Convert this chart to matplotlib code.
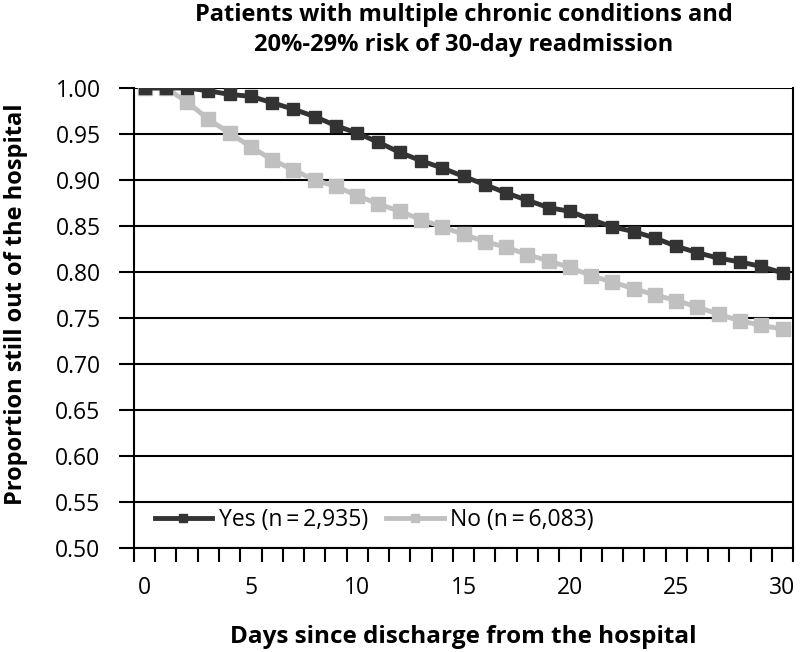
import numpy as np
import matplotlib.pyplot as plt
from matplotlib.ticker import MultipleLocator, FixedLocator

plt.rcParams['font.family'] = ['Open Sans', 'DejaVu Sans']

# days since discharge
days = list(range(31))

# proportion still out of the hospital
yes_vals = [1.000, 1.000, 1.000, 0.997, 0.993, 0.991, 0.984, 0.977, 0.969, 0.959,
            0.951, 0.941, 0.930, 0.921, 0.913, 0.904, 0.895, 0.886, 0.878, 0.870,
            0.866, 0.857, 0.849, 0.844, 0.837, 0.828, 0.821, 0.815, 0.811, 0.806,
            0.799]
no_vals = [1.000, 1.000, 0.985, 0.966, 0.951, 0.936, 0.922, 0.911, 0.900, 0.893,
           0.883, 0.874, 0.866, 0.857, 0.849, 0.841, 0.833, 0.827, 0.819, 0.812,
           0.805, 0.796, 0.789, 0.782, 0.775, 0.769, 0.762, 0.754, 0.747, 0.742,
           0.738]

yes_label = 'Yes (n\u2009=\u20092,935)'
no_label = 'No (n\u2009=\u20096,083)'

fig = plt.figure(figsize=(8.02, 6.52), dpi=100)
ax = fig.add_axes([0.167, 0.1595, 0.822, 0.7055])

ax.plot(days, no_vals, color='#c0c0c0', lw=3.5, marker='s', ms=10, label=no_label, zorder=3)
ax.plot(days, yes_vals, color='#333333', lw=3.5, marker='s', ms=9, label=yes_label, zorder=4)

ax.set_xlim(-0.5, 30.5)
ax.set_ylim(0.5, 1.0)

# y axis
ax.yaxis.set_major_locator(MultipleLocator(0.05))
ax.yaxis.set_major_formatter(plt.FuncFormatter(lambda v, p: f'{v:.2f}'))
ax.grid(axis='y', color='black', lw=1.5)
ax.set_axisbelow(True)
ax.tick_params(axis='y', direction='out', length=11, width=1.5, labelsize=16.5, pad=13)

# x axis: labels at categories, tick marks between categories
ax.xaxis.set_major_locator(FixedLocator([0, 5, 10, 15, 20, 25, 30]))
ax.xaxis.set_minor_locator(FixedLocator(np.arange(-0.5, 31, 1)))
ax.tick_params(axis='x', which='major', length=0, labelsize=16.5, pad=20)
ax.tick_params(axis='x', which='minor', direction='out', length=10, width=1.5)

for s in ax.spines.values():
    s.set_linewidth(1.5)
ax.spines['top'].set_visible(False)

ax.set_title('Patients with multiple chronic conditions and\n20%-29% risk of 30-day readmission',
             fontsize=17, fontweight='bold', pad=27, linespacing=1.3)
ax.set_xlabel('Days since discharge from the hospital', fontsize=17.5, fontweight='bold', labelpad=18)
ax.set_ylabel('Proportion still out of the hospital', fontsize=17, fontweight='bold')
ax.yaxis.set_label_coords(-0.161, 0.53)

h, l = ax.get_legend_handles_labels()
ax.legend(h[::-1], l[::-1], loc='lower left', ncol=2, frameon=False, fontsize=16.5,
          markerscale=0.6, handlelength=2.5, columnspacing=0.8, handletextpad=0.3,
          bbox_to_anchor=(0.0, -0.01))

fig.savefig('out.png', dpi=100)
